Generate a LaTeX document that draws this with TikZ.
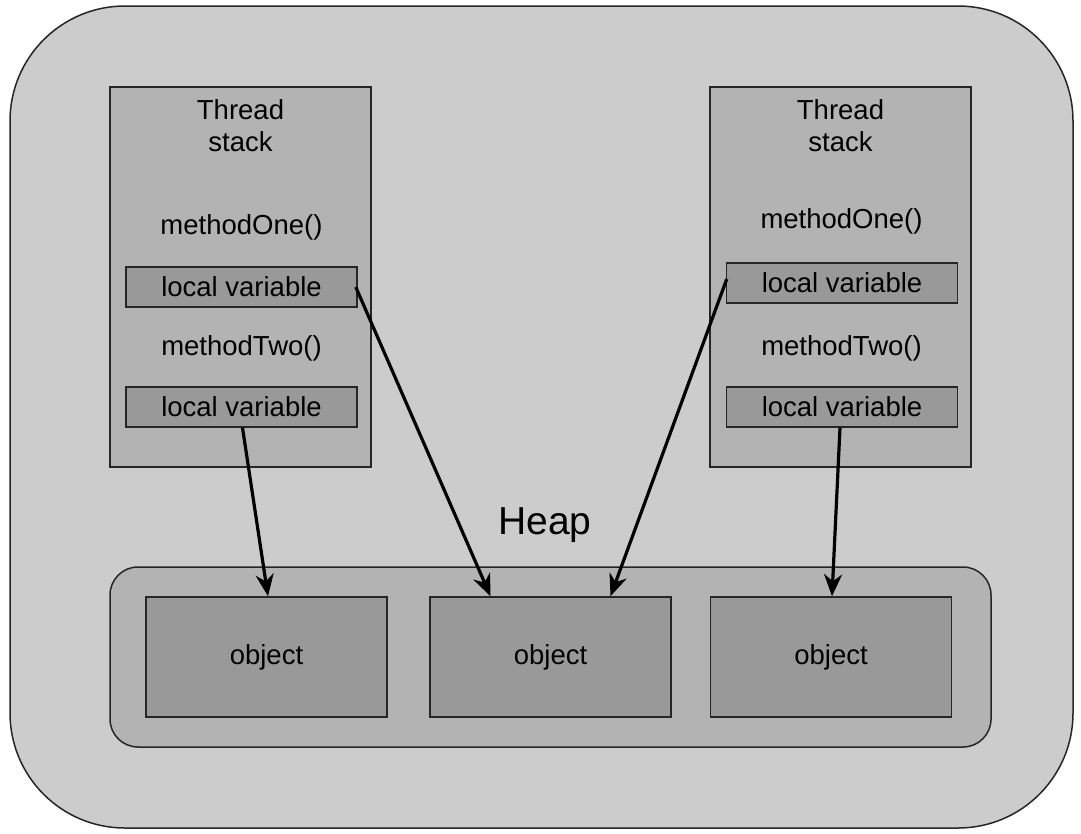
\documentclass[tikz,border=0pt]{standalone}
\usepackage{fontspec}
\setmainfont{Liberation Sans}
\usetikzlibrary{arrows.meta}
\definecolor{bgGray}{RGB}{204,204,204}
\definecolor{midGray}{RGB}{179,179,179}
\definecolor{darkGray}{RGB}{153,153,153}
\tikzset{
  boxline/.style={draw=black!85, line width=1.5pt},
  stackbox/.style={boxline, fill=midGray, rectangle, minimum width=261pt, minimum height=380pt, inner sep=0pt},
  varbox/.style={boxline, fill=darkGray, rectangle, minimum width=231pt, minimum height=40pt, inner sep=0pt, font=\fontsize{27.5}{32}\selectfont},
  objbox/.style={boxline, fill=darkGray, rectangle, minimum width=241pt, minimum height=120pt, inner sep=0pt, font=\fontsize{27.5}{32}\selectfont},
  lbl/.style={inner sep=0pt, font=\fontsize{27.5}{32}\selectfont, align=center},
  ref/.style={line width=3.2pt, -{Stealth[length=22pt, width=18pt, inset=7pt]}}
}
\begin{document}
\begin{tikzpicture}[x=1pt, y=-1pt]
\useasboundingbox (0,0) rectangle (1081,833);
\fill[white] (0,0) rectangle (1081,833);
% outer container
\node[boxline, fill=bgGray, rounded corners=115pt, minimum width=1063pt, minimum height=822pt, inner sep=0pt] (jvm) at (541.5,417) {};
% thread stacks
\node[stackbox] (stackL) at (240.5,277) {};
\node[stackbox] (stackR) at (840.5,277) {};
\node[lbl, text width=150pt] (titleL) at (240.5,126) {Thread\\stack};
\node[lbl, text width=150pt] (titleR) at (840.5,126) {Thread\\stack};
\node[lbl] (m1L) at (241.5,227) {methodOne()};
\node[lbl] (m1R) at (841.5,221) {methodOne()};
\node[varbox] (lv1L) at (241.5,287) {local variable};
\node[varbox] (lv1R) at (842,283) {local variable};
\node[lbl] (m2L) at (241.5,348) {methodTwo()};
\node[lbl] (m2R) at (841.5,348) {methodTwo()};
\node[varbox] (lv2L) at (241.5,407) {local variable};
\node[varbox] (lv2R) at (842,407) {local variable};
% heap
\node[inner sep=0pt, font=\fontsize{39}{44}\selectfont] (heapLbl) at (545,525) {Heap};
\node[boxline, fill=midGray, rounded corners=28pt, minimum width=881pt, minimum height=180pt, inner sep=0pt] (heap) at (550.5,657) {};
\node[objbox] (objL) at (266.5,657) {object};
\node[objbox] (objM) at (550.5,657) {object};
\node[objbox] (objR) at (831,657) {object};
% references
\draw[ref] ([xshift=1pt]lv2L.south) -- ([xshift=1.5pt]objL.north);
\draw[ref] ([xshift=-2pt]lv1L.east) -- ([xshift=-60pt]objM.north);
\draw[ref] ([yshift=4pt,xshift=1pt]lv1R.west) -- ([xshift=60pt]objM.north);
\draw[ref] ([xshift=-2pt]lv2R.south) -- ([xshift=1pt]objR.north);
\end{tikzpicture}
\end{document}
